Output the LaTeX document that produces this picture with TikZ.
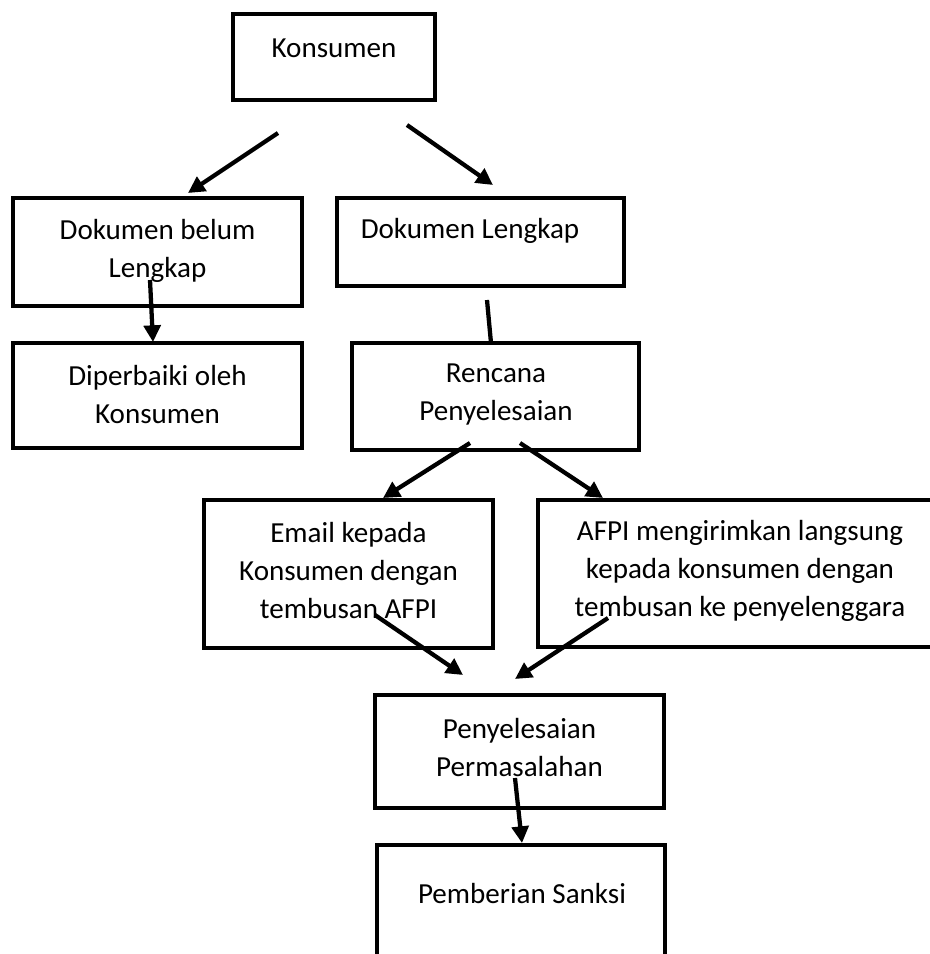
\documentclass[tikz,border=0pt]{standalone}
\usepackage{fontspec}
\setmainfont{Carlito}
\usetikzlibrary{arrows.meta}
\tikzset{
  box/.style={draw=black, line width=3.2pt, rectangle, inner sep=0pt},
  lbl/.style={align=center, inner sep=0pt, font=\fontsize{21.8pt}{28.5pt}\selectfont},
  arr/.style={line width=3.2pt, -{Triangle[length=12.5pt,width=12.5pt]}},
  ln/.style={line width=3.2pt},
}
\begin{document}
\begin{tikzpicture}[x=0.75pt,y=-0.75pt]
\useasboundingbox (0,0) rectangle (930,954);
\fill[white] (0,0) rectangle (930,954);
\clip (0,0) rectangle (930,954);
% boxes
\node[box, minimum width=202*0.75pt, minimum height=86*0.75pt] (konsumen) at (334,57) {};
\node[box, minimum width=289*0.75pt, minimum height=108*0.75pt] (belum) at (157.5,252) {};
\node[box, minimum width=287*0.75pt, minimum height=88*0.75pt] (lengkap) at (480.5,242) {};
\node[box, minimum width=289*0.75pt, minimum height=105*0.75pt] (perbaiki) at (157.5,395.5) {};
\node[box, minimum width=287*0.75pt, minimum height=107*0.75pt] (rencana) at (495.5,396.5) {};
\node[box, minimum width=289*0.75pt, minimum height=148*0.75pt] (email) at (348.5,574) {};
\node[box, minimum width=440*0.75pt, minimum height=147*0.75pt] (afpi) at (758,573.5) {};
\node[box, minimum width=289*0.75pt, minimum height=113*0.75pt] (selesai) at (519.5,751.5) {};
\node[box, minimum width=288*0.75pt, minimum height=200*0.75pt] (sanksi) at (521,945) {};
% texts
\node[lbl] (tkonsumen) at (334,48) {Konsumen};
\node[lbl] (tbelum) at (157.5,250.5) {Dokumen belum\\Lengkap};
\node[lbl] (tlengkap) at (470,231) {Dokumen Lengkap};
\node[lbl] (tperbaiki) at (157.5,395) {Diperbaiki oleh\\Konsumen};
\node[lbl] (trencana) at (496,395) {Rencana\\Penyelesaian};
\node[lbl] (temail) at (348.5,571) {Email kepada\\Konsumen dengan\\tembusan AFPI};
\node[lbl] (tafpi) at (740,571) {AFPI mengirimkan langsung\\kepada konsumen dengan\\tembusan ke penyelenggara};
\node[lbl] (tselesai) at (519.5,747.5) {Penyelesaian\\Permasalahan};
\node[lbl] (tsanksi) at (522,894) {Pemberian Sanksi};
% connector end points
\coordinate (a1) at (278,133); \coordinate (a2) at (188,193);
\coordinate (b1) at (407,125); \coordinate (b2) at (493,185);
\coordinate (c1) at (150,280); \coordinate (c2) at (153,342);
\coordinate (d1) at (487,300); \coordinate (d2) at (491,343);
\coordinate (e1) at (470,443); \coordinate (e2) at (383,498);
\coordinate (f1) at (520,443); \coordinate (f2) at (603,498);
\coordinate (g1) at (375,615); \coordinate (g2) at (463,675);
\coordinate (h1) at (608,618); \coordinate (h2) at (515,679);
\coordinate (i1) at (515,778); \coordinate (i2) at (522,843);
% connectors
\draw[arr] (a1) -- (a2);
\draw[arr] (b1) -- (b2);
\draw[arr] (c1) -- (c2);
\draw[ln] (d1) -- (d2);
\draw[arr] (e1) -- (e2);
\draw[arr] (f1) -- (f2);
\draw[arr] (g1) -- (g2);
\draw[arr] (h1) -- (h2);
\draw[arr] (i1) -- (i2);
\end{tikzpicture}
\end{document}
